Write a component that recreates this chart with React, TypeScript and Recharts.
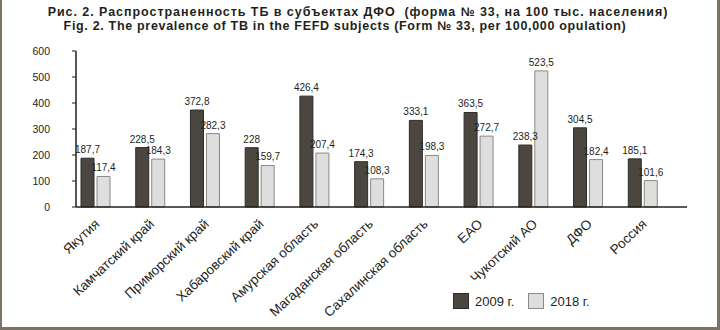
import { Bar, BarChart, LabelList, Legend, XAxis, YAxis } from "recharts";

const regions = [
  "Якутия",
  "Камчатский край",
  "Приморский край",
  "Хабаровский край",
  "Амурская область",
  "Магаданская область",
  "Сахалинская область",
  "ЕАО",
  "Чукотский АО",
  "ДФО",
  "Россия",
];
const y2009 = [187.7, 228.5, 372.8, 228, 426.4, 174.3, 333.1, 363.5, 238.3, 304.5, 185.1];
const y2018 = [117.4, 184.3, 282.3, 159.7, 207.4, 108.3, 198.3, 272.7, 523.5, 182.4, 101.6];
const yTicks = [0, 100, 200, 300, 400, 500, 600];

const data = regions.map((name, i) => ({ name, y2009: y2009[i], y2018: y2018[i] }));

const FONT = '"Liberation Sans", Arial, sans-serif';
const INK = "#231f1c";
const DARK = "#4b4640";
const LIGHT = "#dedede";

const fmt = (v: any) => String(v).replace(".", ",");

const RegionTick = ({ x, y, payload }: any) => (
  <g transform={`translate(${x + 5},${y + 18}) rotate(-43)`}>
    <text x={0} y={0} textAnchor="end" fontSize={13.5} fontFamily={FONT} fill={INK}>
      {payload.value}
    </text>
  </g>
);

const LegendBox = ({ payload }: any) => (
  <div style={{ display: "flex", alignItems: "center", fontFamily: FONT, fontSize: 13, color: INK }}>
    {(payload || []).map((p: any, i: number) => (
      <div key={i} style={{ display: "flex", alignItems: "center", marginRight: 14 }}>
        <span
          style={{
            width: 14,
            height: 14,
            background: p.payload.fill,
            border: `1px solid ${p.payload.stroke}`,
            marginRight: 6,
          }}
        />
        {p.value}
      </div>
    ))}
  </div>
);

const titleStyle: any = {
  position: "absolute",
  whiteSpace: "nowrap",
  fontFamily: FONT,
  fontWeight: "bold",
  fontSize: 12.5,
  lineHeight: "14px",
  color: INK,
  transform: "translateX(-50%)",
};

export default function App() {
  return (
    <div style={{ position: "absolute", left: 0, top: 0, width: 720, height: 330, background: "#fff", overflow: "hidden" }}>
      <div style={{ ...titleStyle, top: 4.5, left: 358, letterSpacing: 0.95 }}>
        Рис. 2. Распространенность ТБ в субъектах ДФО&nbsp; (форма № 33, на 100 тыс. населения)
      </div>
      <div style={{ ...titleStyle, top: 18.5, left: 345, letterSpacing: 0.68 }}>
        Fig. 2. The prevalence of TB in the FEFD subjects (Form № 33, per 100,000 opulation)
      </div>
      <BarChart
        width={720}
        height={330}
        data={data}
        margin={{ top: 51, right: 33, left: 0, bottom: 0 }}
        barSize={13}
        barGap={3}
      >
        <YAxis
          domain={[0, 600]}
          ticks={yTicks}
          width={76}
          tickSize={4}
          tickMargin={22}
          axisLine={{ stroke: INK, strokeWidth: 1.5 }}
          tickLine={{ stroke: INK }}
          tick={{ fontSize: 10.5, fill: INK, fontFamily: FONT }}
        />
        <XAxis
          dataKey="name"
          height={123}
          interval={0}
          padding={{ left: -8, right: 17 }}
          tickSize={0}
          tickMargin={0}
          axisLine={{ stroke: INK, strokeWidth: 1.5 }}
          tick={<RegionTick />}
        />
        <Legend
          layout="horizontal"
          verticalAlign="middle"
          align="center"
          wrapperStyle={{ top: 293, left: 453, width: 200 }}
          content={<LegendBox />}
        />
        <Bar dataKey="y2009" name="2009 г." fill={DARK} stroke="#2f2b27" isAnimationActive={false}>
          <LabelList dataKey="y2009" position="top" offset={5} formatter={fmt} fontSize={10} fill={INK} fontFamily={FONT} />
        </Bar>
        <Bar dataKey="y2018" name="2018 г." fill={LIGHT} stroke="#8c8883" isAnimationActive={false}>
          <LabelList dataKey="y2018" position="top" offset={5} formatter={fmt} fontSize={10} fill={INK} fontFamily={FONT} />
        </Bar>
      </BarChart>
      <div
        style={{
          position: "absolute",
          left: 0,
          top: 0,
          width: 720,
          height: 330,
          boxSizing: "border-box",
          borderLeft: "2px solid #7a7363",
          borderRight: "3px solid #7a7363",
          borderBottom: "3px solid #7a7363",
          pointerEvents: "none",
        }}
      />
    </div>
  );
}
